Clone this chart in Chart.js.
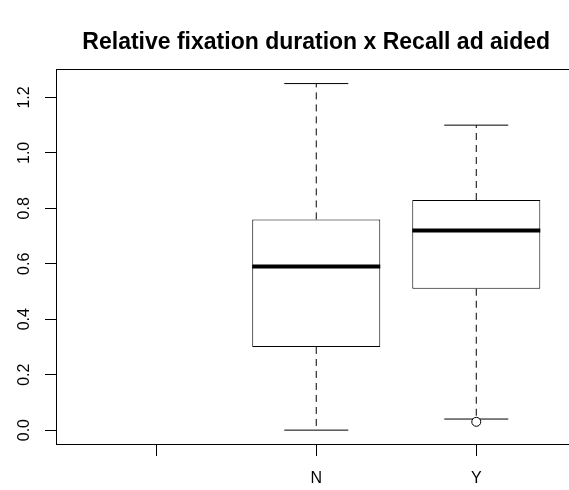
<!DOCTYPE html>
<html>
<head>
<meta charset="utf-8">
<script src="https://cdn.jsdelivr.net/npm/chart.js@4"></script>
<style>
  html, body { margin: 0; background: #fff; overflow: hidden; }
</style>
</head>
<body>
<!-- canvas is a bit wider than the window: the reference cuts off the right edge of the plot box -->
<canvas id="js--chart--1" width="581" height="490"></canvas>
<script>
// group labels (first group has no data)
const cats = ["", "N", "Y"];
const positions = [1, 2, 3];

// box statistics per group
const lowWhisker = [null, 0.00, 0.04];
const q1 = [null, 0.30, 0.51];
const median = [null, 0.59, 0.72];
const q3 = [null, 0.76, 0.83];
const highWhisker = [null, 1.25, 1.10];
const outliers = [[], [], [0.03]];

const yTicks = [0.0, 0.2, 0.4, 0.6, 0.8, 1.0, 1.2];

const boxWidth = 0.8;
const capWidth = 0.4;

// build the pieces from the stats
let boxes = [], medians = [], whiskers = [], caps = [], points = [];
for (let i = 0; i < cats.length; i++) {
    if (median[i] === null) continue;
    let x = positions[i];
    boxes.push({ x: x, y: [q1[i], q3[i]] });
    medians.push({ x: x - boxWidth / 2, y: median[i] }, { x: x + boxWidth / 2, y: median[i] }, { x: x, y: null });
    whiskers.push({ x: x, y: q3[i] }, { x: x, y: highWhisker[i] }, { x: x, y: null });
    whiskers.push({ x: x, y: q1[i] }, { x: x, y: lowWhisker[i] }, { x: x, y: null });
    caps.push({ x: x - capWidth / 2, y: highWhisker[i] }, { x: x + capWidth / 2, y: highWhisker[i] }, { x: x, y: null });
    caps.push({ x: x - capWidth / 2, y: lowWhisker[i] }, { x: x + capWidth / 2, y: lowWhisker[i] }, { x: x, y: null });
    outliers[i].forEach(v => points.push({ x: x, y: v }));
}

// box round the plot region, like R does
const frame = {
    id: 'frame',
    beforeDatasetsDraw(chart) {
        const a = chart.chartArea;
        const ctx = chart.ctx;
        ctx.save();
        ctx.strokeStyle = '#000';
        ctx.lineWidth = 1;
        let l = Math.round(a.left) - 0.5, t = Math.round(a.top) - 0.5;
        let r = Math.round(a.right) + 0.5, b = Math.round(a.bottom) + 0.5;
        ctx.strokeRect(l, t, r - l, b - t);
        ctx.restore();
    }
};

Chart.defaults.font.family = "'Liberation Sans', Arial, sans-serif";
Chart.defaults.color = '#000';

const data = {
    datasets: [
        {
            type: 'line',
            data: points,
            showLine: false,
            pointRadius: 4.5,
            pointBorderWidth: 1,
            pointBorderColor: '#000',
            pointBackgroundColor: '#fff',
        },
        {
            type: 'line',
            data: medians,
            borderColor: '#000',
            borderWidth: 4,
            pointRadius: 0,
            spanGaps: false,
        },
        {
            type: 'line',
            data: caps,
            borderColor: '#000',
            borderWidth: 1,
            pointRadius: 0,
            spanGaps: false,
        },
        {
            type: 'line',
            data: whiskers,
            borderColor: '#000',
            borderWidth: 1,
            borderDash: [7, 5],
            pointRadius: 0,
            spanGaps: false,
        },
        {
            type: 'bar',
            data: boxes,
            backgroundColor: '#fff',
            borderColor: '#000',
            borderWidth: 1,
            borderSkipped: false,
            categoryPercentage: 1,
            barPercentage: boxWidth,
        }
    ]
};

const config = {
    type: 'bar',
    data: data,
    plugins: [frame],
    options: {
        responsive: false,
        animation: false,
        layout: { padding: 0 },
        plugins: {
            legend: { display: false },
            tooltip: { enabled: false },
            title: {
                display: true,
                text: 'Relative fixation duration x Recall ad aided',
                fullSize: false,
                color: '#000',
                font: { size: 23, weight: 'bold' },
                padding: { top: 29, bottom: 13.1 },
            }
        },
        scales: {
            x: {
                type: 'linear',
                min: 0.38,
                max: 3.62,
                offset: false,
                afterBuildTicks: s => { s.ticks = positions.map(v => ({ value: v })); },
                afterFit: s => { s.height = 46; },
                ticks: {
                    callback: (v) => cats[positions.indexOf(v)],
                    font: { size: 16 },
                    padding: 13,
                    maxRotation: 0,
                },
                grid: { offset: false, drawOnChartArea: false, drawTicks: true, tickLength: 12, color: '#000' },
                border: { display: false },
            },
            y: {
                type: 'linear',
                min: -0.05,
                max: 1.30,
                afterBuildTicks: s => { s.ticks = yTicks.map(v => ({ value: v })); },
                afterFit: s => { s.width = 57; },
                ticks: {
                    callback: (v) => v.toFixed(1),
                    font: { size: 16 },
                    padding: 9,
                    minRotation: 90,
                    maxRotation: 90,
                    crossAlign: 'center',
                },
                grid: { drawOnChartArea: false, drawTicks: true, tickLength: 12, color: '#000' },
                border: { display: false },
            }
        }
    }
};

new Chart(document.getElementById("js--chart--1"), config);
</script>
</body>
</html>
